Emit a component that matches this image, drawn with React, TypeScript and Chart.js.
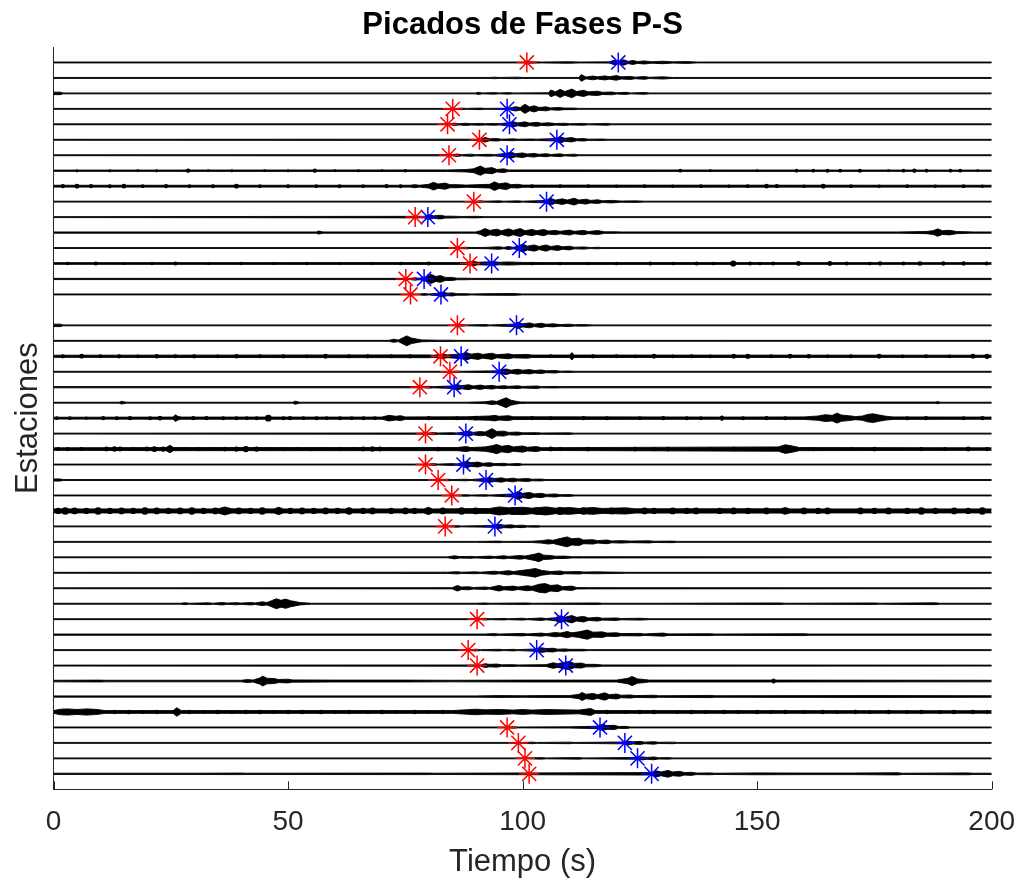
import React, { useEffect, useRef } from "react";
import { Chart, registerables } from "chart.js";

Chart.register(...registerables);

// ---------------- data ----------------
const TITLE = "Picados de Fases P-S";
const X_LABEL = "Tiempo (s)";
const Y_LABEL = "Estaciones";
const X_TICKS = [0, 50, 100, 150, 200];
const X_MIN = 0;
const X_MAX = 200;
const STATION_COUNT = 47;

// P picks (red) and S picks (blue), seconds, per station (1 = top)
const P_PICKS: (number | null)[] = [
  100.9, null, null, 85.1, 84.0, 90.8, 84.3, null, null, 89.6,
  77.1, null, 86.1, 88.8, 75.1, 76.1, null, 86.1, null, 82.5,
  84.5, 78.1, null, null, 79.3, null, 79.3, 82.0, 84.9, null,
  83.5, null, null, null, null, null, 90.3, null, 88.4, 90.3,
  null, null, null, 96.7, 99.1, 100.5, 101.4,
];
const S_PICKS: (number | null)[] = [
  120.4, null, null, 96.7, 97.2, 107.3, 96.7, null, null, 105.1,
  79.8, null, 99.3, 93.4, 79.0, 82.6, null, 98.7, null, 86.9,
  95.0, 85.4, null, null, 87.9, null, 87.4, 92.2, 98.4, null,
  94.1, null, null, null, null, null, 108.3, null, 103.0, 109.2,
  null, null, null, 116.5, 121.8, 124.5, 127.5,
];

// Trace envelopes per station: [time (s), half amplitude (station spacing units)]
const TRACES: (number[][] | null)[] = [
  /* 1 */ [[0,.03],[100,.03],[101,.05],[104,.03],[110,.05],[112,.03],[118.5,.04],[119.5,.14],[120.5,.06],[121.5,.18],[122.5,.07],[123.5,.13],[124.5,.06],[126,.1],[127.5,.05],[130,.08],[132,.04],[135,.06],[137,.03],[200,.03]],
  /* 2 */ [[0,.03],[93,.03],[94,.05],[95,.03],[99,.05],[100,.03],[112,.03],[112.5,.22],[113.5,.06],[115,.12],[116,.07],[117.5,.13],[118.5,.08],[120,.15],[121,.07],[123,.1],[124,.05],[126,.09],[127,.04],[130,.07],[132,.03],[200,.03]],
  /* 3 */ [[0,.08],[1.5,.08],[2,.03],[90,.03],[90.5,.07],[91.5,.03],[94,.05],[95,.03],[97,.05],[98,.03],[105.5,.04],[106,.22],[107,.1],[108,.26],[109,.12],[110.5,.28],[111.5,.12],[113,.2],[114,.1],[116,.14],[117,.07],[119,.09],[120,.04],[122,.07],[123,.03],[126,.06],[127,.03],[200,.03]],
  /* 4 */ [[0,.03],[86,.03],[87,.05],[88,.03],[91,.05],[92,.03],[97,.04],[98.5,.14],[99.5,.08],[100.5,.3],[101.5,.12],[102.5,.2],[103.5,.09],[105,.13],[106,.06],[107.5,.09],[109,.05],[111,.05],[112,.03],[200,.03]],
  /* 5 */ [[0,.03],[84.5,.03],[85.5,.08],[86.5,.04],[88,.07],[89,.04],[91,.06],[92,.04],[94,.06],[95,.04],[97,.1],[98,.17],[99,.09],[100.5,.16],[101.5,.08],[103,.13],[104,.07],[105.5,.1],[107,.05],[109,.07],[110,.04],[113,.06],[114,.03],[118,.06],[119,.03],[200,.03]],
  /* 6 */ [[0,.03],[91,.04],[92,.15],[93,.06],[94.5,.08],[95.5,.04],[98,.06],[99,.04],[102,.05],[103,.04],[107,.08],[108,.2],[109,.1],[110.5,.14],[111.5,.06],[113,.08],[114,.04],[117,.05],[118,.03],[200,.03]],
  /* 7 */ [[0,.03],[85,.04],[86,.08],[87,.04],[89,.07],[90,.04],[93,.06],[94,.04],[96.5,.12],[97.5,.2],[98.5,.1],[100,.15],[101,.08],[102.5,.12],[103.5,.06],[105,.1],[106,.05],[108,.09],[109,.04],[111,.07],[112,.03],[200,.03]],
  /* 8 */ [[0,.04],[84,.05],[88,.08],[89.5,.12],[91,.3],[92,.15],[93.5,.2],[94.5,.08],[96,.12],[97,.05],[100,.05],[200,.04]],
  /* 9 */ [[0,.06],[76,.06],[77,.1],[78,.06],[80,.12],[81,.25],[82,.14],[83.5,.2],[84.5,.1],[86,.1],[88,.07],[93,.12],[94,.28],[95,.15],[96.5,.22],[97.5,.1],[99,.12],[100,.07],[200,.06]],
  /* 10 */ [[0,.03],[90,.03],[91,.06],[92,.03],[95,.05],[96,.03],[99,.05],[100,.03],[105,.08],[106,.22],[107,.1],[108.5,.18],[109.5,.1],[111,.22],[112,.1],[113.5,.16],[114.5,.08],[116,.12],[117,.06],[119,.08],[121,.04],[124,.05],[126,.03],[200,.03]],
  /* 11 */ [[0,.03],[79,.05],[80,.15],[81,.08],[82.5,.12],[83.5,.06],[85,.06],[87,.04],[90,.05],[92,.03],[200,.03]],
  /* 12 */ [[0,.04],[56,.04],[56.5,.1],[57.5,.04],[90,.04],[91,.12],[92,.26],[93,.14],[94.5,.22],[95.5,.12],[97,.24],[98,.14],[99.5,.26],[100.5,.12],[102,.2],[103,.12],[104.5,.2],[105.5,.1],[107,.14],[108,.08],[110,.16],[111,.08],[113,.14],[114,.07],[116,.13],[117.5,.05],[120,.05],[121,.04],[180,.04],[186,.07],[187.5,.12],[188.5,.24],[189.5,.12],[191,.15],[192.5,.07],[195,.05],[196,.04],[200,.04]],
  /* 13 */ [[0,.03],[86,.03],[88,.05],[89,.03],[92,.04],[95,.08],[96,.04],[97,.1],[98,.05],[99,.12],[100,.26],[101,.12],[102.5,.2],[103.5,.1],[105,.2],[106,.1],[107.5,.16],[108.5,.08],[110,.12],[111,.05],[113,.07],[114.5,.03],[116,.05],[117,.03],[200,.03]],
  /* 14 */ [[0,.055],[88,.06],[89.5,.14],[90.5,.08],[92,.1],[94,.12],[95,.08],[97,.1],[100,.07],[105,.06],[200,.055]],
  /* 15 */ [[0,.04],[76,.04],[77,.08],[78,.05],[79.5,.14],[80.5,.3],[81.5,.16],[82.5,.22],[83.5,.1],[85,.1],[86,.05],[88,.05],[89,.04],[200,.04]],
  /* 16 */ [[0,.03],[78,.03],[79,.06],[80,.03],[82,.08],[83,.15],[84,.08],[85,.1],[86,.05],[88,.05],[89,.03],[92,.05],[98,.06],[100,.03],[200,.03]],
  /* 17 */ null,
  /* 18 */ [[0,.08],[1.5,.08],[2,.03],[86,.03],[87,.06],[88,.03],[92,.05],[93,.03],[98,.08],[99,.2],[100,.1],[101.5,.16],[102.5,.08],[104,.14],[105,.07],[106.5,.1],[108,.05],[110,.08],[111,.04],[113,.05],[115,.03],[200,.03]],
  /* 19 */ [[0,.03],[71.5,.03],[72.5,.1],[73.5,.05],[74.5,.2],[75.3,.32],[76.3,.18],[77.3,.12],[78.5,.06],[80,.05],[82,.04],[85,.04],[86,.03],[200,.03]],
  /* 20 */ [[0,.07],[80,.09],[81,.07],[83,.14],[84,.09],[85.5,.12],[87,.16],[88,.24],[89,.14],[90.5,.2],[91.5,.12],[93.5,.2],[94.5,.1],[97,.16],[98,.1],[101,.12],[102,.08],[110,.08],[110.5,.24],[111,.08],[200,.07]],
  /* 21 */ [[0,.03],[85,.03],[86,.05],[87,.03],[94.5,.06],[95.5,.14],[96.5,.18],[97.5,.1],[99,.16],[100,.1],[101.5,.14],[102.5,.08],[104,.12],[105,.06],[107,.08],[108,.04],[110,.05],[111,.03],[200,.03]],
  /* 22 */ [[0,.04],[79,.04],[80,.06],[81,.04],[85,.08],[86,.18],[87,.1],[88.5,.16],[89.5,.08],[91,.14],[92,.08],[93.5,.12],[94.5,.06],[96,.1],[97,.06],[99,.09],[100,.05],[103,.08],[104,.04],[107,.05],[108,.04],[200,.04]],
  /* 23 */ [[0,.03],[14,.03],[14.5,.09],[15.5,.03],[51,.03],[51.5,.1],[52.5,.03],[88,.03],[92,.06],[93.5,.12],[94.5,.08],[95.5,.2],[96.5,.32],[97.5,.16],[98.5,.1],[99.5,.05],[101,.04],[188,.04],[188.5,.07],[189,.03],[200,.03]],
  /* 24 */ [[0,.06],[25.5,.07],[26,.22],[26.5,.12],[27.2,.07],[70,.07],[71.5,.18],[73,.12],[74,.16],[75,.08],[88,.09],[93,.14],[94,.18],[95,.12],[97,.16],[98,.09],[142,.07],[142.5,.15],[143,.07],[160,.08],[163,.14],[164.5,.22],[166,.18],[167,.32],[168,.2],[169.5,.16],[171,.1],[172.5,.14],[173.5,.24],[174.7,.28],[176,.2],[177.5,.12],[179,.08],[200,.07]],
  /* 25 */ [[0,.03],[80,.04],[81,.07],[82,.04],[85,.06],[86,.04],[87.5,.1],[88.5,.16],[89.5,.08],[91,.14],[92,.1],[93.5,.32],[94.5,.14],[96,.16],[97,.08],[99,.1],[100,.05],[103,.06],[104,.04],[110,.05],[111,.03],[200,.03]],
  /* 26 */ [[0,.08],[24,.1],[24.8,.24],[25.6,.1],[86,.1],[88,.16],[89,.1],[92,.14],[93.5,.22],[94.5,.3],[95.5,.18],[97,.24],[98,.14],[100,.2],[101,.12],[103,.16],[104,.09],[154.5,.14],[156,.28],[157.5,.2],[159,.1],[200,.08]],
  /* 27 */ [[0,.03],[80,.03],[81,.06],[82,.03],[85,.06],[86,.04],[87,.1],[88,.22],[89,.12],[90.5,.16],[91.5,.08],[93,.12],[94,.06],[96,.08],[97,.04],[99,.07],[100,.03],[200,.03]],
  /* 28 */ [[0,.07],[1.5,.07],[2,.03],[82,.03],[84,.05],[85,.03],[88,.05],[89,.03],[92,.1],[93,.16],[94,.09],[95.5,.14],[96.5,.07],[98,.12],[99,.06],[101,.1],[102,.05],[104,.06],[105,.03],[200,.03]],
  /* 29 */ [[0,.03],[86,.03],[88,.05],[89,.03],[92,.05],[93,.03],[98,.1],[99,.26],[100,.14],[101.5,.2],[102.5,.1],[104,.14],[105,.07],[107,.1],[108,.05],[110,.06],[111,.03],[200,.03]],
  /* 30 */ [[0,.13],[35,.13],[36.5,.26],[38,.14],[47,.13],[48,.24],[49,.13],[79,.13],[79.9,.24],[80.8,.13],[93,.16],[95,.26],[97,.2],[100,.24],[102,.18],[105,.26],[107,.18],[110,.22],[112,.16],[115,.22],[117,.16],[122,.2],[124,.14],[155,.14],[156,.22],[157,.13],[200,.13]],
  /* 31 */ [[0,.03],[84,.03],[86,.05],[87,.03],[94,.06],[95,.14],[96,.08],[97.5,.1],[98.5,.06],[100,.08],[101,.04],[103,.05],[104,.03],[200,.03]],
  /* 32 */ [[0,.03],[90,.03],[95,.05],[96,.03],[102,.04],[104,.08],[105.5,.14],[106.5,.1],[108,.22],[109.5,.32],[110.5,.2],[112,.24],[113,.12],[115,.14],[116,.08],[118,.12],[119,.06],[121,.08],[123,.05],[127,.07],[128,.04],[132,.05],[133,.03],[200,.03]],
  /* 33 */ [[0,.03],[84,.03],[85.5,.1],[86.5,.05],[89,.06],[90,.04],[93,.08],[94,.05],[96,.1],[97,.06],[99.5,.12],[100.5,.08],[102.5,.2],[103.5,.28],[104.5,.14],[106,.12],[107,.07],[109,.08],[110.5,.04],[113,.04],[200,.03]],
  /* 34 */ [[0,.03],[84,.04],[86,.07],[87,.04],[90,.06],[91,.04],[94,.1],[95,.06],[97,.14],[98,.08],[100,.16],[101.5,.22],[102.7,.28],[104,.16],[105,.12],[106,.08],[108,.12],[109,.06],[112,.08],[113,.05],[116,.06],[118,.05],[121,.04],[122,.03],[200,.03]],
  /* 35 */ [[0,.03],[85,.04],[86.1,.18],[87,.08],[88.5,.1],[89.5,.05],[92,.08],[93,.05],[95,.18],[96,.1],[98,.14],[99,.08],[101,.16],[102,.12],[103.5,.26],[104.8,.3],[106,.18],[107.5,.22],[108.5,.1],[110.5,.14],[111.5,.05],[114,.04],[200,.03]],
  /* 36 */ [[0,.03],[27,.03],[28,.06],[29,.03],[33,.06],[34,.03],[36,.08],[37,.04],[39,.07],[40,.04],[42,.08],[43,.05],[44.5,.12],[45.5,.08],[46.5,.2],[47.5,.32],[48.5,.22],[49.5,.3],[50.5,.2],[51.5,.14],[52.5,.08],[54,.05],[55,.03],[90,.03],[92,.05],[93,.03],[101,.05],[102,.03],[116,.05],[117,.03],[130,.03],[155,.05],[156,.03],[175,.05],[176,.03],[188,.06],[189,.03],[200,.03]],
  /* 37 */ [[0,.03],[91,.03],[92,.06],[93,.03],[96,.05],[97,.03],[100,.06],[101,.03],[104,.08],[105,.04],[107,.1],[108,.22],[109,.12],[110.5,.24],[111.5,.12],[113,.18],[114,.08],[116,.12],[117,.06],[120,.08],[121,.04],[125,.06],[127,.03],[200,.03]],
  /* 38 */ [[0,.04],[92,.04],[94,.07],[95,.04],[100,.08],[101,.05],[104,.1],[105,.06],[107,.14],[108,.1],[109.5,.2],[110.5,.12],[112,.18],[113.8,.3],[115,.16],[117,.18],[118,.1],[120,.12],[121,.07],[125,.08],[126,.05],[130,.1],[131,.05],[140,.06],[141,.04],[160,.06],[161,.04],[200,.04]],
  /* 39 */ [[0,.03],[89,.03],[90,.06],[91,.03],[95,.05],[96,.03],[98,.05],[99,.03],[103,.08],[104,.16],[105,.1],[106.5,.12],[107.5,.06],[109,.08],[110,.05],[113,.05],[114,.03],[200,.03]],
  /* 40 */ [[0,.03],[91,.04],[92,.12],[93,.08],[94.5,.1],[95.5,.05],[98,.06],[99,.04],[105,.06],[106.5,.18],[107.5,.12],[109,.22],[110,.26],[111,.14],[112.5,.16],[113.5,.08],[115.5,.08],[117,.04],[200,.03]],
  /* 41 */ [[0,.05],[10,.06],[11,.05],[40,.05],[41.5,.1],[42.5,.06],[44,.2],[44.6,.32],[45.5,.18],[47,.16],[48,.1],[50,.12],[51,.07],[53,.07],[60,.06],[75,.06],[85,.05],[100,.06],[110,.06],[120,.06],[122.5,.18],[123.3,.3],[124.5,.14],[126,.1],[127,.06],[135,.06],[153,.06],[153.5,.14],[154,.06],[200,.05]],
  /* 42 */ [[0,.04],[90,.04],[95,.06],[100,.05],[105,.06],[110,.06],[112,.14],[112.7,.26],[113.5,.14],[115,.2],[116,.12],[117.5,.24],[118.5,.12],[120,.16],[121,.08],[123,.1],[124,.06],[128,.08],[129,.05],[140,.07],[141,.05],[175,.06],[200,.05]],
  /* 43 */ [[0,.09],[1.5,.18],[3,.2],[5,.16],[7,.2],[9,.17],[11,.09],[25.5,.09],[26.3,.28],[27.2,.09],[85,.09],[88,.14],[90,.18],[92,.14],[95,.16],[98,.12],[100,.16],[102,.12],[105,.16],[108,.14],[112,.12],[114.5,.22],[115.5,.09],[200,.08]],
  /* 44 */ [[0,.03],[97,.03],[98,.05],[99,.03],[110,.04],[116,.08],[117,.2],[118,.12],[119.5,.14],[120.5,.06],[122,.07],[123,.03],[200,.03]],
  /* 45 */ [[0,.03],[100,.03],[102,.05],[103,.03],[110,.05],[111,.03],[121.5,.06],[122.5,.12],[123.5,.07],[125,.1],[126,.05],[128,.08],[129,.04],[132,.05],[133,.03],[200,.03]],
  /* 46 */ [[0,.03],[101,.03],[104,.05],[105,.03],[112,.05],[113,.03],[124.5,.06],[125.5,.1],[126.5,.06],[128,.09],[129,.04],[131,.05],[132,.03],[200,.03]],
  /* 47 */ [[0,.04],[30,.04],[40,.05],[41,.04],[80,.05],[81,.04],[127.5,.08],[128.5,.2],[129.5,.12],[131,.22],[132,.12],[133.5,.16],[134.5,.08],[136,.1],[137,.05],[140,.06],[141,.04],[150,.06],[160,.05],[170,.05],[180,.07],[181,.04],[195,.06],[196,.04],[200,.04]],
];

// Isolated wavelets on the noisy traces: [station, time (s), half amplitude]
const DOTS: number[][] = [
  [8,5,.1],[8,12,.1],[8,18,.09],[8,22,.1],[8,28.7,.14],[8,33,.09],[8,38,.1],[8,45,.09],[8,50,.1],[8,55.7,.14],[8,60,.09],[8,65,.1],[8,70,.09],[8,75,.11],[8,133.6,.12],[8,140,.09],[8,150,.09],[8,158.4,.12],[8,162,.12],[8,165,.13],[8,167.7,.12],[8,171.9,.13],[8,178,.09],[8,181.2,.12],[8,183.5,.14],[8,186.1,.12],[8,191.2,.12],[8,193.3,.12],[8,197,.09],
  [9,2,.14],[9,5,.16],[9,8,.14],[9,12,.13],[9,15,.15],[9,19,.12],[9,24,.14],[9,29,.12],[9,34,.13],[9,39,.16],[9,44,.12],[9,50,.13],[9,56,.12],[9,61,.13],[9,66,.12],[9,71,.14],[9,74,.13],[9,102,.13],[9,108,.12],[9,114,.12],[9,120,.11],[9,126,.12],[9,132,.11],[9,138,.12],[9,144,.11],[9,148,.12],[9,152,.15],[9,154.2,.14],[9,160,.11],[9,164.1,.16],[9,170,.12],[9,176,.11],[9,182,.12],[9,188,.11],[9,194,.12],[9,198,.11],
  [14,3,.11],[14,9,.13],[14,15,.1],[14,21,.11],[14,26,.13],[14,33,.1],[14,40,.11],[14,47,.1],[14,54,.11],[14,61,.1],[14,68,.11],[14,74,.12],[14,80,.13],[14,102,.12],[14,108,.12],[14,114,.11],[14,120,.12],[14,127.2,.13],[14,132.1,.12],[14,137.1,.13],[14,140.7,.12],[14,144.9,.2],[14,148.5,.13],[14,150.6,.12],[14,153.4,.13],[14,158.8,.16],[14,165.5,.16],[14,169.1,.13],[14,174,.12],[14,176.2,.14],[14,181.2,.13],[14,184.7,.15],[14,189.7,.14],[14,194,.14],[14,198.9,.13],
  [20,2,.14],[20,6,.16],[20,10,.13],[20,14,.14],[20,18,.12],[20,22,.15],[20,26,.13],[20,30,.14],[20,35,.12],[20,39,.15],[20,44,.13],[20,49,.14],[20,54,.12],[20,58,.16],[20,63,.13],[20,67,.14],[20,72,.13],[20,76,.14],[20,106,.13],[20,115,.14],[20,120,.13],[20,124,.12],[20,128,.16],[20,132,.12],[20,136,.13],[20,140,.12],[20,145,.16],[20,148,.17],[20,153,.13],[20,157,.16],[20,161,.15],[20,165,.12],[20,170,.13],[20,176,.16],[20,181,.12],[20,186,.13],[20,191,.12],[20,196,.16],[20,199,.17],
  [24,0.7,.12],[24,3.5,.12],[24,7,.1],[24,10.6,.14],[24,13.5,.13],[24,16.3,.14],[24,20.6,.13],[24,22.7,.15],[24,29.8,.14],[24,32.6,.14],[24,36.2,.13],[24,39,.13],[24,41.2,.12],[24,43.3,.13],[24,45.8,.22],[24,49,.13],[24,50.4,.14],[24,53.3,.12],[24,56.1,.13],[24,58.2,.12],[24,61.1,.13],[24,63.6,.12],[24,66.1,.13],[24,68.5,.12],[24,80,.14],[24,86,.13],[24,90,.15],[24,102,.14],[24,106,.13],[24,113,.14],[24,118,.13],[24,125,.12],[24,130,.14],[24,135,.13],[24,138,.12],[24,147,.13],[24,152,.14],[24,156,.13],[24,182,.13],[24,186,.14],[24,194,.13],[24,198,.14],
  [26,1,.13],[26,3,.14],[26,6,.13],[26,11.3,.16],[26,13,.18],[26,14.2,.16],[26,17,.13],[26,19.9,.16],[26,21.5,.19],[26,23.4,.17],[26,28,.13],[26,31,.14],[26,33.5,.13],[26,36.5,.15],[26,39,.17],[26,41,.2],[26,43.3,.17],[26,46,.14],[26,49,.14],[26,52,.13],[26,55,.14],[26,58,.13],[26,61,.14],[26,64,.13],[26,66,.16],[26,68,.18],[26,69.6,.16],[26,72,.13],[26,82,.15],[26,106,.16],[26,108,.14],[26,114,.15],[26,117,.13],[26,124,.15],[26,128,.14],[26,131,.15],[26,140,.13],[26,145,.15],[26,162,.14],[26,170,.13],[26,175,.15],[26,185,.14],[26,190,.13],[26,195,.16],[26,199,.14],
  [30,1,.2],[30,2.5,.24],[30,4.5,.22],[30,7,.2],[30,9.5,.24],[30,12,.2],[30,14.5,.22],[30,17,.2],[30,19.5,.24],[30,22,.22],[30,24.5,.2],[30,27,.22],[30,29.5,.24],[30,32,.2],[30,34.5,.22],[30,39.5,.22],[30,42,.2],[30,44.5,.24],[30,50.5,.2],[30,53,.22],[30,55.5,.2],[30,58,.22],[30,60.5,.2],[30,63,.24],[30,66,.2],[30,68,.22],[30,72,.2],[30,75,.22],[30,77,.2],[30,83,.22],[30,87,.24],[30,90,.22],[30,98,.26],[30,103,.24],[30,108,.26],[30,113,.24],[30,119,.22],[30,126,.22],[30,128,.2],[30,132,.22],[30,135,.2],[30,137,.22],[30,142,.2],[30,145,.22],[30,148,.2],[30,152,.22],[30,160,.22],[30,163,.2],[30,165,.22],[30,172,.22],[30,175,.2],[30,178,.22],[30,182,.2],[30,185,.24],[30,188,.2],[30,192,.22],[30,195,.2],[30,198,.24],
  [43,13,.14],[43,16,.15],[43,19,.13],[43,22,.14],[43,29,.14],[43,32,.13],[43,35,.15],[43,38,.13],[43,41,.14],[43,44,.15],[43,47,.13],[43,50,.15],[43,53,.14],[43,57,.15],[43,60,.13],[43,63,.14],[43,67,.13],[43,70,.15],[43,73,.13],[43,77,.14],[43,80,.13],[43,83,.14],[43,118,.15],[43,122,.13],[43,125,.15],[43,128,.14],[43,133,.13],[43,136,.15],[43,139,.13],[43,143,.14],[43,146,.13],[43,150,.15],[43,153,.13],[43,156,.14],[43,160,.13],[43,164,.15],[43,167,.13],[43,171,.14],[43,174,.13],[43,178,.15],[43,182,.13],[43,185,.14],[43,189,.13],[43,192,.15],[43,196,.14],[43,199,.13],
];

// ---------------- styles ----------------
const FONT = "'Liberation Sans', Arial, Helvetica, sans-serif";
const AXIS_COLOR = "#262626";
const P_COLOR = "#ff0000";
const S_COLOR = "#0000ff";
const TRACE_COLOR = "#000000";
const W = 1017;
const H = 879;

const decorations = {
  id: "decorations",
  afterDraw(chart: any) {
    const x = chart.scales.x;
    const { ctx, chartArea } = chart;
    ctx.save();
    // inward tick marks
    ctx.strokeStyle = AXIS_COLOR;
    ctx.lineWidth = 1;
    for (const v of X_TICKS) {
      const px = Math.round(x.getPixelForValue(v)) + 0.5;
      ctx.beginPath();
      ctx.moveTo(px, chartArea.bottom);
      ctx.lineTo(px, chartArea.bottom - 8);
      ctx.stroke();
    }
    // title centred on the plot area
    ctx.fillStyle = "#000";
    ctx.font = `bold 31px ${FONT}`;
    ctx.textAlign = "center";
    ctx.textBaseline = "middle";
    ctx.fillText(TITLE, (chartArea.left + chartArea.right) / 2, 25);
    ctx.restore();
  },
};

export default function App() {
  const ref = useRef<HTMLCanvasElement | null>(null);

  useEffect(() => {
    if (!ref.current) return;
    const starSet = (label: string, picks: (number | null)[], color: string) => ({
      type: "line",
      label,
      data: picks.map((t, i) => (t == null ? null : { x: t, y: i + 1 })).filter(Boolean),
      showLine: false,
      pointStyle: "star",
      pointRadius: 10,
      pointBorderColor: color,
      pointBackgroundColor: color,
      pointBorderWidth: 1.5,
      borderColor: color,
      order: 0,
    });
    const datasets: any[] = [starSet("P", P_PICKS, P_COLOR), starSet("S", S_PICKS, S_COLOR)];

    datasets.push({
      type: "line",
      label: "dots",
      data: DOTS.map(([s, t, a]) => ({ x: t, y: s, a })),
      showLine: false,
      pointStyle: "circle",
      pointRadius: (c: any) => {
        const y = c.chart.scales.y;
        if (!y || !c.raw) return 0;
        const unit = Math.abs(y.getPixelForValue(1) - y.getPixelForValue(0));
        return c.raw.a * unit;
      },
      pointBorderWidth: 0,
      pointBackgroundColor: TRACE_COLOR,
      pointBorderColor: TRACE_COLOR,
      order: 1,
    });

    TRACES.forEach((tr, i) => {
      if (!tr) return;
      const s = i + 1;
      datasets.push({
        type: "line",
        data: tr.map(([t, a]) => ({ x: t, y: s - a })),
        borderColor: TRACE_COLOR,
        borderWidth: 0.9,
        pointRadius: 0,
        tension: 0,
        fill: false,
        order: 1,
      });
      datasets.push({
        type: "line",
        data: tr.map(([t, a]) => ({ x: t, y: s + a })),
        borderColor: TRACE_COLOR,
        borderWidth: 0.9,
        backgroundColor: TRACE_COLOR,
        pointRadius: 0,
        tension: 0,
        fill: "-1",
        order: 1,
      });
    });

    const chart = new Chart(ref.current, {
      type: "line",
      data: { datasets },
      options: {
        responsive: false,
        animation: false,
        devicePixelRatio: 1,
        events: [],
        layout: { padding: { left: 0, right: 25.3, top: 47, bottom: 0 } },
        plugins: {
          legend: { display: false },
          tooltip: { enabled: false },
          title: { display: false },
        },
        scales: {
          x: {
            type: "linear",
            min: X_MIN,
            max: X_MAX,
            afterFit: (s: any) => {
              s.height = 89.7;
              s.paddingLeft = 0;
              s.paddingRight = 0;
            },
            afterBuildTicks: (s: any) => {
              s.ticks = X_TICKS.map((v) => ({ value: v }));
            },
            grid: { display: false, drawTicks: false },
            border: { display: true, color: AXIS_COLOR, width: 1 },
            ticks: {
              color: AXIS_COLOR,
              font: { family: FONT, size: 28 },
              padding: 16,
              maxRotation: 0,
              autoSkip: false,
            },
            title: {
              display: true,
              text: X_LABEL,
              color: AXIS_COLOR,
              font: { family: FONT, size: 31, lineHeight: 1 },
              padding: { top: 0, bottom: 1.5 },
            },
          },
          y: {
            type: "linear",
            min: 0,
            max: STATION_COUNT + 1,
            reverse: true,
            afterFit: (s: any) => {
              s.width = 53.5;
              s.paddingTop = 0;
              s.paddingBottom = 0;
            },
            grid: { display: false, drawTicks: false },
            border: { display: true, color: AXIS_COLOR, width: 1 },
            ticks: { display: false },
            title: {
              display: true,
              text: Y_LABEL,
              color: AXIS_COLOR,
              font: { family: FONT, size: 31, lineHeight: 1 },
              padding: { top: 12.5, bottom: 0 },
            },
          },
        },
      },
      plugins: [decorations],
    });
    return () => chart.destroy();
  }, []);

  return (
    <div style={{ position: "absolute", left: 0, top: 0, width: W, height: H, background: "#fff" }}>
      <canvas ref={ref} width={W} height={H} style={{ width: W, height: H }} />
    </div>
  );
}
